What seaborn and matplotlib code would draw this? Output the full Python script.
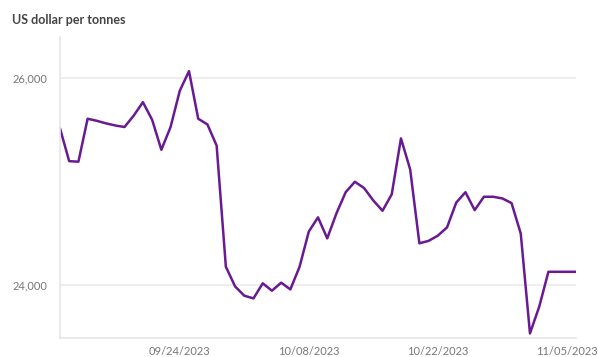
import pandas as pd
import seaborn as sns
import matplotlib.pyplot as plt

# Daily price, 09/11/2023 - 11/06/2023
start_date = "2023-09-11"
prices = [25517, 25200, 25195, 25610, 25590, 25565, 25545, 25530, 25640, 25770,
          25600, 25310, 25530, 25880, 26070, 25610, 25555, 25350, 24180, 23990,
          23900, 23874, 24020, 23948, 24026, 23961, 24180, 24520, 24657, 24454,
          24696, 24900, 25001, 24940, 24820, 24721, 24880, 25420, 25120, 24406,
          24430, 24480, 24560, 24800, 24900, 24727, 24856, 24856, 24840, 24795,
          24500, 23536, 23793, 24131, 24131, 24131, 24131]
label_dates = ["2023-09-24", "2023-10-08", "2023-10-22", "2023-11-05"]
tick_dates = ["2023-09-17", "2023-10-01", "2023-10-15", "2023-10-29"]
y_ticks = [24000, 26000]

df = pd.DataFrame({"date": pd.date_range(start_date, periods=len(prices), freq="D"),
                   "price": prices})

sns.set_style("white")
plt.rcParams['font.family'] = ['Lato', 'DejaVu Sans']

fig = plt.figure(figsize=(5.98, 3.57), dpi=100)
ax = fig.add_axes([0.1003, 0.054, 0.863, 0.843])

sns.lineplot(data=df, x="date", y="price", color="#691a92", linewidth=1.8,
             solid_joinstyle="round", solid_capstyle="round", ax=ax)

# Axis ranges
ax.set_xlim(df["date"].iloc[0], df["date"].iloc[-1])
ax.set_ylim(23494, 26402)

# Y axis
ax.set_yticks(y_ticks)
ax.set_yticklabels([f"{v:,}" for v in y_ticks], fontsize=8, color="#777777")
ax.yaxis.grid(True, color="#ededed", linewidth=1.3)
ax.tick_params(axis="y", length=0, pad=9)

# X axis: labels every two weeks, small marks in between
ax.set_xticks(pd.to_datetime(label_dates))
ax.set_xticklabels([pd.Timestamp(d).strftime("%m/%d/%Y") for d in label_dates],
                   fontsize=8, color="#777777")
ax.set_xticks(pd.to_datetime(tick_dates), minor=True)
ax.tick_params(axis="x", which="major", length=0, pad=6)
ax.tick_params(axis="x", which="minor", length=3, width=0.8, color="#e2e2e2")
ax.xaxis.grid(False)

for side in ["top", "right"]:
    ax.spines[side].set_visible(False)
for side in ["left", "bottom"]:
    ax.spines[side].set_color("#e6e6e6")
    ax.spines[side].set_linewidth(1.2)

ax.set_xlabel("")
ax.set_ylabel("")

fig.text(12 / 598, 1 - 20 / 357, "US dollar per tonnes", fontsize=9,
         fontweight="bold", color="#444444", va="center", ha="left")

plt.savefig("out.png", dpi=100)
